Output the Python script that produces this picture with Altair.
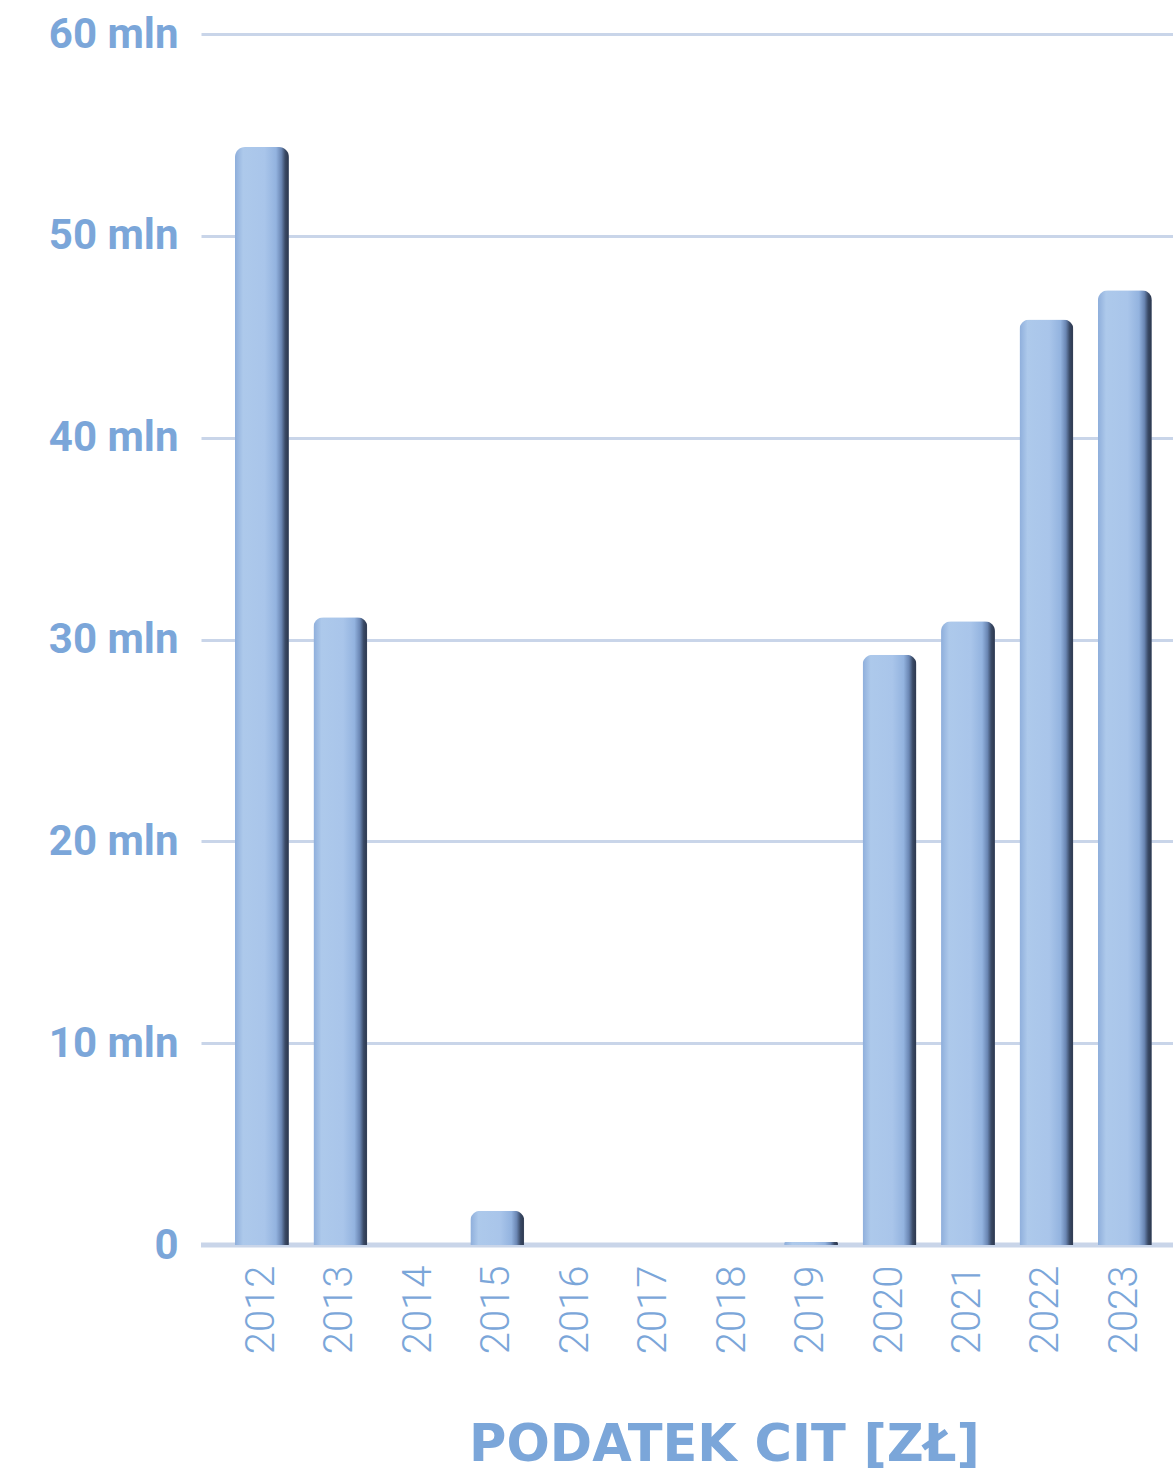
import altair as alt
import pandas as pd

# CIT tax paid per year, in złoty
years = ["2012", "2013", "2014", "2015", "2016", "2017", "2018", "2019",
         "2020", "2021", "2022", "2023"]
cit_pln = [54_400_000, 31_100_000, 0, 1_700_000, 0, 0, 0, 150_000,
           29_250_000, 30_900_000, 45_850_000, 47_300_000]
y_ticks = [0, 10_000_000, 20_000_000, 30_000_000, 40_000_000, 50_000_000, 60_000_000]

df = pd.DataFrame({"rok": years, "cit": cit_pln})

BLUE_TEXT = "#7ba6d9"
GRID = "#c9d5e9"

bar_fill = alt.LinearGradient(
    gradient="linear",
    x1=0, x2=1, y1=0, y2=0,
    stops=[
        alt.GradientStop(color="#8eaedb", offset=0.0),
        alt.GradientStop(color="#adc9eb", offset=0.15),
        alt.GradientStop(color="#a9c5ea", offset=0.55),
        alt.GradientStop(color="#93b3df", offset=0.76),
        alt.GradientStop(color="#6a86b3", offset=0.86),
        alt.GradientStop(color="#3a4a66", offset=0.93),
        alt.GradientStop(color="#2f3b52", offset=0.98),
        alt.GradientStop(color="#4d5b74", offset=1.0),
    ],
)

x_enc = alt.X(
    "rok:N",
    sort=years,
    scale=alt.Scale(paddingInner=0.312, paddingOuter=0.351, align=0.617),
    axis=alt.Axis(
        title="PODATEK CIT [ZŁ]",
        titleFont="DejaVu Sans",
        titleFontWeight="bold",
        titleFontSize=51,
        titleColor=BLUE_TEXT,
        titleX=523,
        titleY=215,
        titleAlign="center",
        titleBaseline="alphabetic",
        titleAnchor="start",
        labelAngle=270,
        labelAlign="right",
        labelBaseline="middle",
        labelFont="Roboto",
        labelFontWeight=300,
        labelFontSize=40,
        labelColor=BLUE_TEXT,
        labelPadding=20,
        ticks=False,
        domain=False,
        grid=False,
    ),
)

y_scale = alt.Scale(domain=[0, 60_000_000], nice=False)

bars = alt.Chart(df).mark_bar(
    fill=bar_fill,
    cornerRadiusTopLeft=10,
    cornerRadiusTopRight=10,
).encode(
    x=x_enc,
    y=alt.Y(
        "cit:Q",
        scale=y_scale,
        axis=alt.Axis(
            title=None,
            values=y_ticks,
            labelExpr="datum.value == 0 ? '0' : (datum.value / 1000000) + ' mln'",
            labelFont="Roboto",
            labelFontWeight="bold",
            labelFontSize=42,
            labelColor=BLUE_TEXT,
            labelPadding=23,
            labelBaseline="middle",
            ticks=False,
            domain=False,
            gridColor=GRID,
            gridWidth=3,
            gridOpacity=1,
        ),
    ),
)

# thicker baseline at zero
baseline = alt.Chart(pd.DataFrame({"v": [0]})).mark_rule(
    color=GRID, strokeWidth=5
).encode(y=alt.Y("v:Q", scale=y_scale))

chart = alt.layer(baseline, bars).properties(
    width=972,
    height=1211,
    autosize=alt.AutoSizeParams(type="none"),
    padding={"left": 201, "top": 34, "right": 0, "bottom": 228},
    background="white",
).configure_view(stroke=None)

chart.save("out.html", embed_options={"renderer": "svg", "actions": False})
